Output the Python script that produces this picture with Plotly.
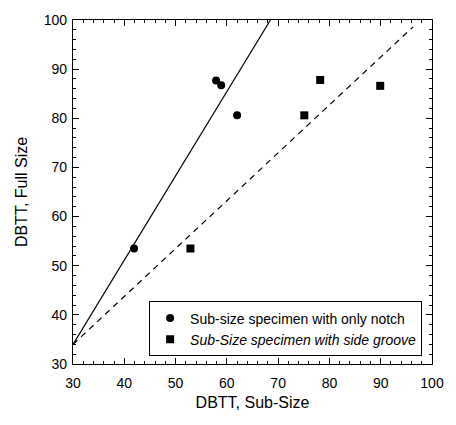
import plotly.graph_objects as go

# Data
notch_x = [41.9, 57.9, 58.9, 62.0]
notch_y = [53.5, 87.7, 86.7, 80.6]
groove_x = [52.9, 75.1, 78.2, 89.9]
groove_y = [53.5, 80.6, 87.8, 86.6]
solid_x = [30, 68.5]
solid_y = [34, 100]
dash_x = [30, 96.3]
dash_y = [34, 98.6]

x_ticks = [30, 40, 50, 60, 70, 80, 90, 100]
y_ticks = [30, 40, 50, 60, 70, 80, 90, 100]

font = "Liberation Sans, Arial, sans-serif"

fig = go.Figure()
fig.add_trace(go.Scatter(x=solid_x, y=solid_y, mode="lines",
                         line=dict(color="black", width=1.2), showlegend=False))
fig.add_trace(go.Scatter(x=dash_x, y=dash_y, mode="lines",
                         line=dict(color="black", width=1.2, dash="6px,5px"), showlegend=False))
fig.add_trace(go.Scatter(x=notch_x, y=notch_y, mode="markers",
                         marker=dict(symbol="circle", size=8, color="black"),
                         name="Sub-size specimen with only notch"))
fig.add_trace(go.Scatter(x=groove_x, y=groove_y, mode="markers",
                         marker=dict(symbol="square", size=8, color="black"),
                         name="<i>Sub-Size specimen with side groove</i>"))

axis_common = dict(
    showline=True, linecolor="black", linewidth=1.2, mirror="ticks",
    ticks="inside", ticklen=6, tickwidth=1, tickcolor="black",
    showgrid=False, zeroline=False,
    tickfont=dict(family=font, size=14, color="black"),
    minor=dict(ticks="inside", ticklen=3, tickwidth=1, tickcolor="black", dtick=2, showgrid=False),
)

fig.update_xaxes(range=[30, 100], tickvals=x_ticks, ticklabelstandoff=6, **axis_common,
                 title=dict(text="DBTT, Sub-Size", font=dict(family=font, size=16, color="black"), standoff=6))
fig.update_yaxes(range=[30, 100], tickvals=y_ticks, ticklabelstandoff=2, **axis_common,
                 title=dict(text="DBTT, Full Size", font=dict(family=font, size=16, color="black"), standoff=12))

fig.update_layout(
    width=456, height=425,
    margin=dict(l=73, r=20, t=13, b=61),
    plot_bgcolor="white", paper_bgcolor="white",
    legend=dict(x=0.212, y=0.022, xanchor="left", yanchor="bottom",
                bordercolor="black", borderwidth=1, bgcolor="white",
                font=dict(family=font, size=14, color="black"),
                tracegroupgap=0),
)

fig.write_html("out.html")
